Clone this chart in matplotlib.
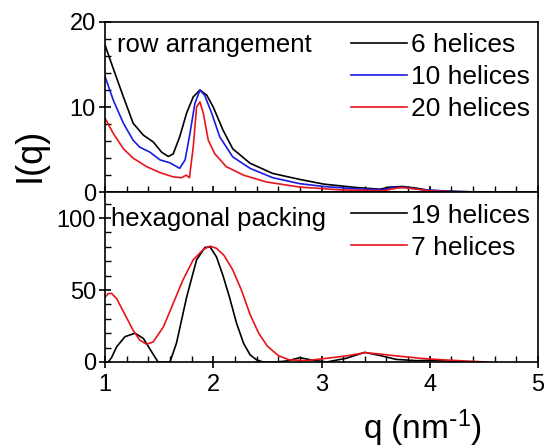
import matplotlib.pyplot as plt
import numpy as np
from matplotlib.ticker import MultipleLocator

plt.rcParams['font.family'] = ['Liberation Sans', 'DejaVu Sans']
plt.rcParams['mathtext.default'] = 'regular'

# row arrangement
q6 = [1.0, 1.077, 1.17, 1.26, 1.354, 1.446, 1.523, 1.585, 1.63, 1.69, 1.754, 1.815, 1.877,
      1.94, 2.0, 2.09, 2.18, 2.34, 2.55, 2.8, 3.02, 3.32, 3.54, 3.63, 3.75, 3.88, 4.0, 4.25, 4.55]
i6 = [17.3, 14.5, 11.2, 8.1, 6.7, 5.9, 4.7, 4.2, 4.5, 6.5, 9.3, 11.2, 12.0,
      11.4, 10.0, 7.3, 5.1, 3.4, 2.2, 1.5, 0.95, 0.55, 0.35, 0.6, 0.67, 0.47, 0.2, 0.08, 0.0]

q10 = [1.0, 1.077, 1.17, 1.26, 1.32, 1.415, 1.508, 1.6, 1.69, 1.74, 1.785, 1.83, 1.877, 1.92,
       1.985, 2.06, 2.18, 2.34, 2.55, 2.8, 3.02, 3.32, 3.57, 3.66, 3.78, 3.94, 4.25, 4.55]
i10 = [13.6, 10.8, 8.1, 6.1, 5.3, 4.7, 3.8, 3.45, 2.8, 3.8, 6.9, 10.4, 12.0, 11.4,
       9.3, 6.5, 4.15, 2.8, 1.7, 1.0, 0.67, 0.4, 0.28, 0.55, 0.55, 0.28, 0.08, 0.0]

q20 = [1.0, 1.077, 1.17, 1.26, 1.385, 1.508, 1.63, 1.708, 1.75, 1.78, 1.815, 1.846, 1.877, 1.908,
       1.954, 2.015, 2.12, 2.28, 2.49, 2.8, 3.17, 3.57, 3.69, 3.75, 3.85, 4.0, 4.25, 4.55]
i20 = [8.7, 6.9, 5.1, 4.0, 3.0, 2.3, 1.8, 1.7, 2.0, 1.7, 5.3, 10.0, 10.6, 9.3,
       6.1, 4.5, 3.0, 2.0, 1.2, 0.6, 0.28, 0.16, 0.47, 0.55, 0.4, 0.16, 0.04, 0.0]

# hexagonal packing
q19 = [1.03, 1.06, 1.108, 1.185, 1.277, 1.354, 1.43, 1.49, 1.6, 1.66, 1.754, 1.846, 1.923,
       1.97, 2.03, 2.09, 2.15, 2.215, 2.28, 2.34, 2.4, 2.46, 2.58, 2.68, 2.8, 2.92, 3.05,
       3.23, 3.4, 3.54, 3.69, 3.88, 4.0, 4.18, 4.3]
i19 = [0, 3, 10.6, 17.6, 20, 16.4, 7.2, 0, 0, 13, 45, 71, 79.6,
       80, 73, 60, 45, 27, 13, 5, 1.5, 0, 0, 0.7, 3, 1.2, 0,
       2.6, 6.7, 4.5, 1.8, 0.9, 1.2, 0.5, 0]

q7 = [1.0, 1.03, 1.06, 1.108, 1.17, 1.26, 1.32, 1.385, 1.446, 1.54, 1.63, 1.72, 1.815, 1.908,
      1.97, 2.03, 2.1, 2.18, 2.26, 2.34, 2.42, 2.5, 2.6, 2.7, 2.86, 3.05, 3.23, 3.4, 3.54,
      3.72, 3.91, 4.1, 4.3, 4.52]
i7 = [45, 47.5, 47.7, 44, 35, 22, 15.3, 12.3, 14, 24.5, 40.7, 57, 71, 78.2,
      80.5, 79, 74, 64, 50, 33, 20, 11, 4.5, 1.5, 0.9, 2.6, 4.2, 6.5, 5.5,
      4, 2.6, 1.6, 0.8, 0]

RED = '#e8141c'
BLUE = '#1a1ae0'

fig = plt.figure(figsize=(5.44, 4.48), dpi=100)
ax1 = fig.add_axes([0.193, 0.571, 0.796, 0.380])
ax2 = fig.add_axes([0.193, 0.192, 0.796, 0.379], sharex=ax1)

ax1.plot(q6, i6, color='black', lw=1.2, label='6 helices')
ax1.plot(q10, i10, color=BLUE, lw=1.2, label='10 helices')
ax1.plot(q20, i20, color=RED, lw=1.2, label='20 helices')

ax2.plot(q19, i19, color='black', lw=1.2, label='19 helices')
ax2.plot(q7, i7, color=RED, lw=1.2, label='7 helices')

ax1.set_xlim(1, 5)
ax1.set_ylim(0, 20)
ax2.set_ylim(0, 118)

ax1.yaxis.set_major_locator(MultipleLocator(10))
ax1.yaxis.set_minor_locator(MultipleLocator(2))
ax2.yaxis.set_major_locator(MultipleLocator(50))
ax2.yaxis.set_minor_locator(MultipleLocator(10))
ax2.xaxis.set_major_locator(MultipleLocator(1))
ax2.xaxis.set_minor_locator(MultipleLocator(0.2))

for ax in (ax1, ax2):
    ax.tick_params(which='major', direction='inout', length=9, width=1.2, labelsize=17,
                   top=False, right=False, pad=2)
    ax.tick_params(which='minor', direction='in', length=4, width=1.0, top=False, right=False)
    for s in ax.spines.values():
        s.set_linewidth(1.2)
    ax.legend(loc='upper right', frameon=False, fontsize=19, handlelength=2.1,
              handletextpad=0.15, labelspacing=0.3, borderaxespad=0.0,
              bbox_to_anchor=(1.005, 0.995))

ax1.tick_params(axis='x', labelbottom=False)
ax2.tick_params(axis='x', pad=4)

ax1.text(0.028, 0.865, 'row arrangement', transform=ax1.transAxes, fontsize=18.5, va='center')
ax2.text(0.015, 0.84, 'hexagonal packing', transform=ax2.transAxes, fontsize=18.5, va='center')

fig.text(0.055, 0.655, 'I(q)', rotation=90, fontsize=26, ha='center', va='center')
fig.text(0.776, 0.045, r'q (nm$^{\text{-}1}$)', fontsize=24, ha='center', va='center')

fig.savefig('out.png', dpi=100)
